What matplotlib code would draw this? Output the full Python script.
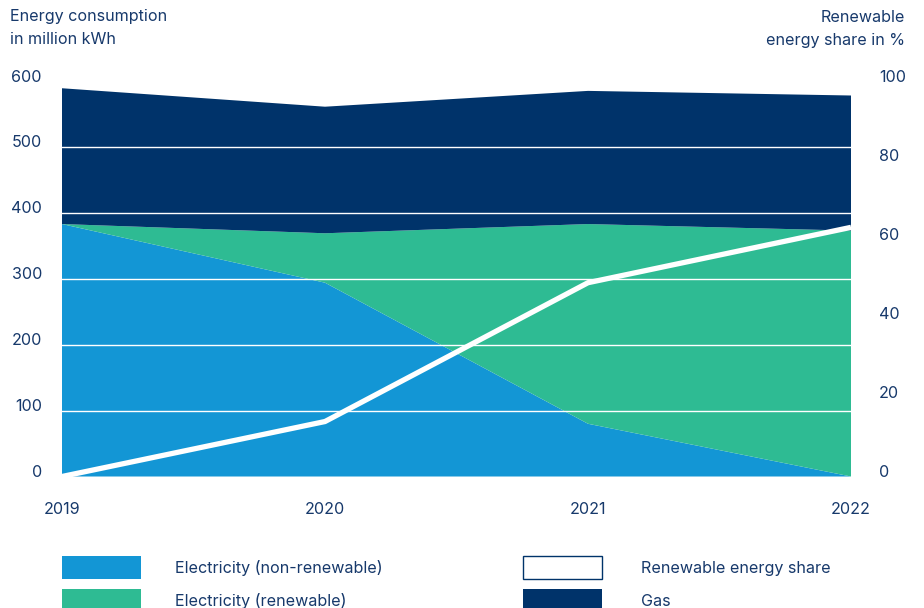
import matplotlib
matplotlib.use("Agg")
import matplotlib.pyplot as plt
from matplotlib.patches import Rectangle
from matplotlib.transforms import blended_transform_factory, ScaledTranslation

plt.rcParams['font.family'] = ['Inter', 'DejaVu Sans']

years = [2019, 2020, 2021, 2022]
year_labels = ["2019", "2020", "2021", "2022"]
elec_nonrenew = [383, 294, 80, 0]
elec_renew = [0, 75, 303, 373]
gas = [206, 192, 202, 205]
renew_share = [0, 13.9, 49, 63]

left_ticks = [0, 100, 200, 300, 400, 500, 600]
right_ticks = [0, 20, 40, 60, 80, 100]

C_BLUE = "#1396D5"
C_GREEN = "#2EBB93"
C_NAVY = "#00336A"
C_TEXT = "#17396B"

W, H = 924, 608
fig = plt.figure(figsize=(W / 100, H / 100), dpi=100)
ax_l, ax_r = 62, 851
ax_b, ax_t = 476.5, 81
ax = fig.add_axes([ax_l / W, 1 - ax_b / H, (ax_r - ax_l) / W, (ax_b - ax_t) / H])
ax.set_xlim(years[0], years[-1])
ax.set_ylim(0, 600)
for s in ax.spines.values():
    s.set_visible(False)
ax.set_xticks([])
ax.set_yticks([])

ax.stackplot(years, elec_nonrenew, elec_renew, gas,
             colors=[C_BLUE, C_GREEN, C_NAVY], linewidth=0, zorder=1)
for v in left_ticks[1:]:
    ax.axhline(v, color="white", lw=1.0, zorder=2)

ax2 = ax.twinx()
ax2.set_ylim(0, 100)
for s in ax2.spines.values():
    s.set_visible(False)
ax2.set_xticks([])
ax2.set_yticks([])
ax2.plot(years, renew_share, color="white", lw=3.8, solid_capstyle="butt",
         solid_joinstyle="miter", zorder=3)

fs = 11.6
up = ScaledTranslation(0, 4 / 100, fig.dpi_scale_trans)
tl = blended_transform_factory(fig.transFigure, ax.transData) + up
for v in left_ticks:
    ax.text(42 / W, v, str(v), transform=tl, ha="right", va="center",
            fontsize=fs, color=C_TEXT)
tr = blended_transform_factory(fig.transFigure, ax2.transData) + up
for v in right_ticks:
    ax2.text(879 / W, v, str(v), transform=tr, ha="left", va="center",
             fontsize=fs, color=C_TEXT)

tx = blended_transform_factory(ax.transData, fig.transFigure)
for yv, lab in zip(years, year_labels):
    ax.text(yv, 1 - 510 / H, lab, transform=tx, ha="center", va="center",
            fontsize=fs, color=C_TEXT, clip_on=False)

fig.text(10 / W, 1 - 17 / H, "Energy consumption", ha="left", va="center",
         fontsize=fs, color=C_TEXT)
fig.text(10 / W, 1 - 40 / H, "in million kWh", ha="left", va="center",
         fontsize=fs, color=C_TEXT)
fig.text(905 / W, 1 - 17 / H, "Renewable", ha="right", va="center",
         fontsize=fs, color=C_TEXT)
fig.text(905 / W, 1 - 40 / H, "energy share in %", ha="right", va="center",
         fontsize=fs, color=C_TEXT)

legend_items = [
    ("Electricity (non-renewable)", C_BLUE, None, 62, 175, 556),
    ("Electricity (renewable)", C_GREEN, None, 62, 175, 589),
    ("Renewable energy share", "white", C_NAVY, 523, 641, 556),
    ("Gas", C_NAVY, None, 523, 641, 589),
]
for label, fc, ec, bx, tx_, by in legend_items:
    rect = Rectangle((bx / W, 1 - (by + 23) / H), 79 / W, 23 / H,
                     transform=fig.transFigure, facecolor=fc,
                     edgecolor=ec if ec else fc, lw=1.0 if ec else 0)
    fig.patches.append(rect)
    fig.text(tx_ / W, 1 - (by + 12) / H, label, ha="left", va="center",
             fontsize=fs, color=C_TEXT)

fig.savefig("out.png", dpi=100)
